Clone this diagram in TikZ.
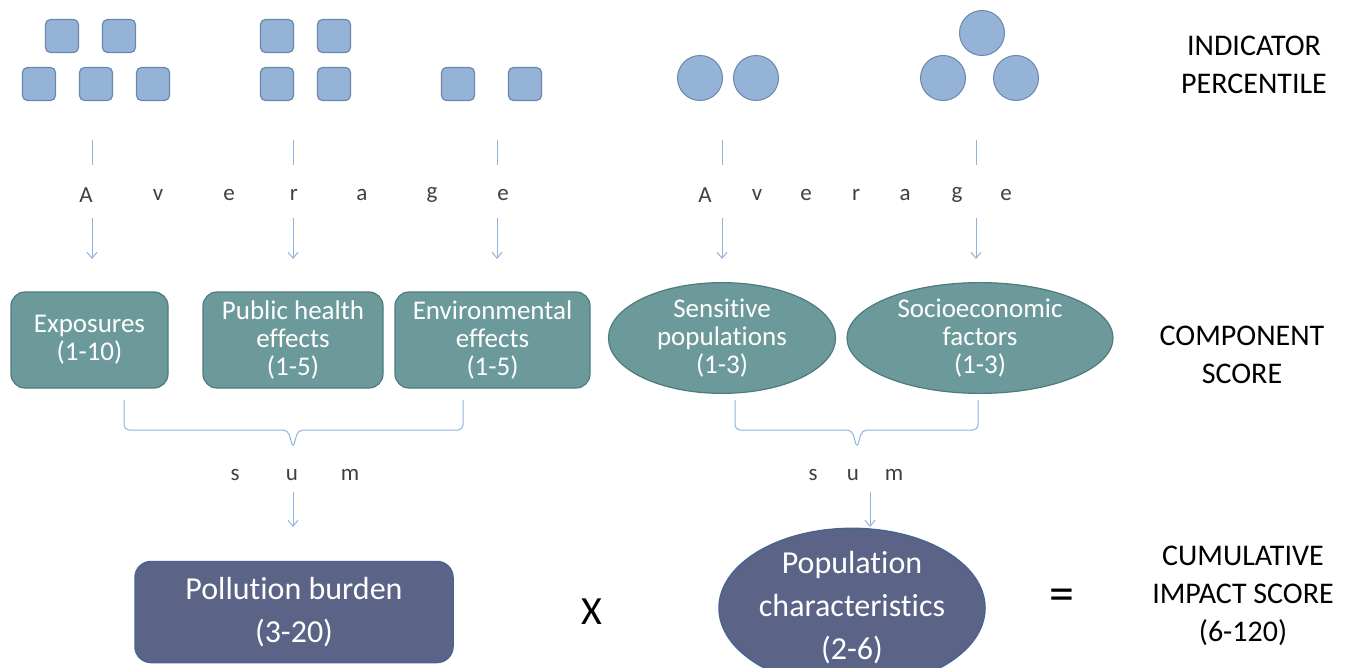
\documentclass[tikz,border=0pt]{standalone}
\usepackage{fontspec}
\setmainfont{Carlito}[Ligatures=CommonOff]
\usetikzlibrary{arrows.meta,shapes.geometric}
\definecolor{sqfill}{HTML}{95B3D7}
\definecolor{sqdraw}{HTML}{6A87AE}
\definecolor{cfill}{HTML}{6C9A9A}
\definecolor{cdraw}{HTML}{4E7B7B}
\definecolor{dfill}{HTML}{5B6387}
\definecolor{ddraw}{HTML}{4A6390}
\definecolor{lcol}{HTML}{8DB3E2}
\definecolor{tcol}{HTML}{404040}
\tikzset{
  sq/.style={draw=sqdraw, fill=sqfill, line width=1.2pt, rounded corners=5pt, minimum width=33pt, minimum height=33pt, inner sep=0pt},
  circ/.style={draw=sqdraw, fill=sqfill, line width=1pt, ellipse, minimum width=45pt, minimum height=45pt, inner sep=0pt},
  comp/.style={draw=cdraw, fill=cfill, line width=1.2pt, rounded corners=14pt, minimum height=96pt, text=white, font=\fontsize{27}{28}\selectfont, align=center, inner sep=0pt},
  compe/.style={draw=cdraw, fill=cfill, line width=1.2pt, ellipse, inner sep=0pt, text=white, font=\fontsize{27}{28}\selectfont, align=center},
  dark/.style={draw=ddraw, fill=dfill, line width=1.5pt, text=white, font=\fontsize{32}{43}\selectfont, align=center},
  lbl/.style={font=\fontsize{30}{38}\selectfont, align=center, text=black},
  avg/.style={font=\fontsize{23}{25}\selectfont, text=tcol, inner sep=0pt},
  conn/.style={draw=lcol, line width=1pt},
  arr/.style={conn, -{Straight Barb[length=6pt,width=10pt]}},
  brace/.style={conn, rounded corners=5pt},
}
\begin{document}
\begin{tikzpicture}[x=1pt,y=-1pt]
\useasboundingbox (0,0) rectangle (1351,668);
% indicator squares
\node[sq] (s1) at (62,36) {};
\node[sq] (s2) at (119,36) {};
\node[sq] (s3) at (39,84) {};
\node[sq] (s4) at (96,84) {};
\node[sq] (s5) at (153,84) {};
\node[sq] (s6) at (277,36) {};
\node[sq] (s7) at (334,36) {};
\node[sq] (s8) at (277,84) {};
\node[sq] (s9) at (334,84) {};
\node[sq] (s10) at (458,84) {};
\node[sq] (s11) at (525,84) {};
\node[circ] (c1) at (700,78) {};
\node[circ] (c2) at (756,78) {};
\node[circ] (c3) at (982,33) {};
\node[circ] (c4) at (943,78) {};
\node[circ] (c5) at (1016,78) {};
\node[lbl] (ip) at (1254,65) {INDICATOR\\PERCENTILE};
% Average letters
\foreach \l/\x [count=\i] in {A/86,v/158,e/229,r/294,a/362,g/432,e/503}
  \node[avg] (la\i) at (\x,195) {\l};
\foreach \l/\x [count=\i] in {A/705,v/757,e/806,r/856,a/905,g/957,e/1006}
  \node[avg] (ra\i) at (\x,195) {\l};
% line tops and ends
\foreach \n/\x in {a/92,b/293,c/497,d/722,e/976}{
  \coordinate (t\n) at (\x,140);
  \coordinate (m\n) at (\x,165);
  \coordinate (u\n) at (\x,218);
  \coordinate (v\n) at (\x,259);
}
% component nodes
\node[comp, minimum width=157pt] (exp) at (89.5,340) {Exposures\\(1-10)};
\node[comp, minimum width=180pt] (phe) at (293,340) {Public health\\effects\\(1-5)};
\node[comp, minimum width=195pt] (env) at (492.5,340) {Environmental\\effects\\(1-5)};
\node[compe, minimum width=227pt, minimum height=106pt] (sen) at (722,338) {Sensitive\\populations\\(1-3)};
\node[compe, minimum width=266pt, minimum height=106pt] (soc) at (980,338) {Socioeconomic\\factors\\(1-3)};
\node[lbl] (cs) at (1242,355) {COMPONENT\\SCORE};
\foreach \n in {a,b,c,d,e} {
  \draw[conn] (t\n) -- (m\n);
  \draw[arr] (u\n) -- (v\n);
}
% braces
\draw[brace] (124,400) -- (124,430) -- (288,430) -- (293,448) -- (298,430) -- (463,430) -- (463,400);
\draw[brace] (735,400) -- (735,430) -- (852,430) -- (857,448) -- (862,430) -- (978,430) -- (978,400);
% sum
\node[avg] (ls) at (235,475) {s};
\node[avg] (lu) at (292,475) {u};
\node[avg] (lm) at (350,475) {m};
\node[avg] (rs) at (813,475) {s};
\node[avg] (ru) at (853,475) {u};
\node[avg] (rm) at (894,475) {m};
\coordinate (pa) at (293,492);
\coordinate (pb) at (293,527);
\coordinate (qa) at (870,492);
\coordinate (qb) at (870,527);
\draw[arr] (pa) -- (pb);
\draw[arr] (qa) -- (qb);
% bottom
\node[dark, rounded corners=16pt, minimum width=318pt, minimum height=101pt] (pol) at (294,612) {Pollution burden\\(3-20)};
\node[font=\fontsize{40}{44}\selectfont] (times) at (592,612) {X};
\node[dark, ellipse, inner sep=0pt, minimum width=266pt, minimum height=122pt] (popc) at (852,608) {Population\\characteristics\\(2-6)};
\node[font=\fontsize{50}{54}\selectfont] (eq) at (1062,600) {=};
\node[lbl] (cis) at (1243,596) {CUMULATIVE\\IMPACT SCORE\\(6-120)};
\end{tikzpicture}
\end{document}
